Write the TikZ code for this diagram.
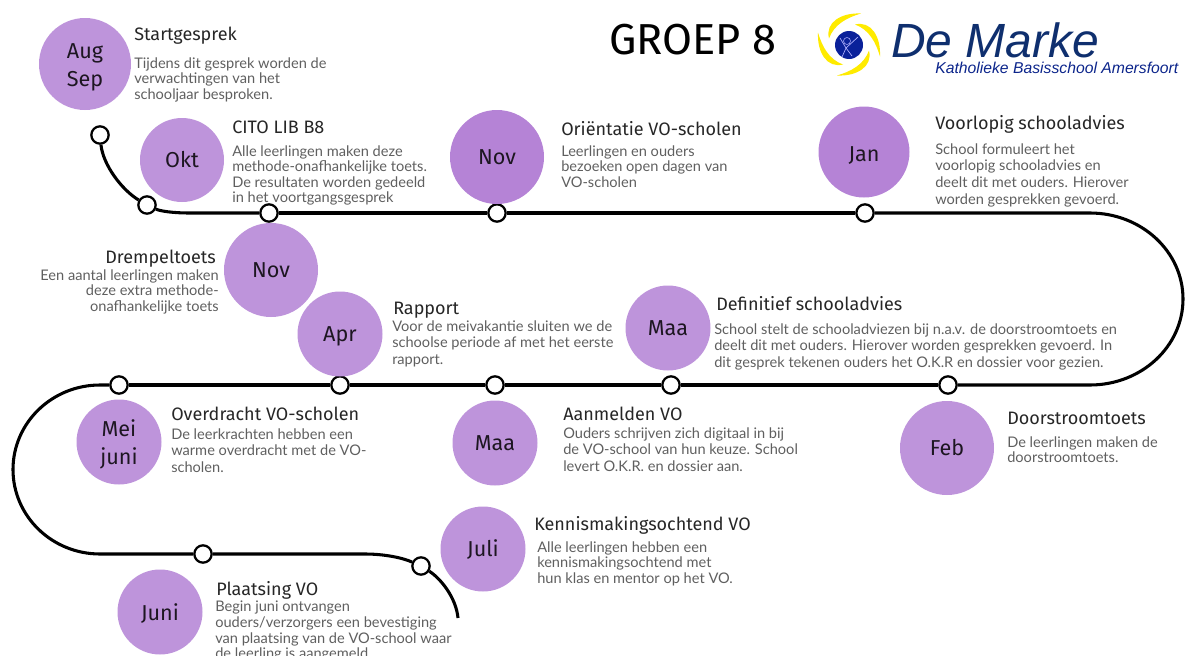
\documentclass[tikz,border=0pt]{standalone}
\usepackage{fontspec}
\setmainfont{Lato}
\newfontfamily\headfont{Fira Sans}
\newfontfamily\logofont{Liberation Sans}
\usetikzlibrary{positioning}
\definecolor{bolletje}{HTML}{BE94DB}
\definecolor{bolletjedonker}{HTML}{B583D6}
\definecolor{tekstgrijs}{HTML}{5F5F5F}
\definecolor{markeblauw}{HTML}{0F2F6E}
\definecolor{markegeel}{HTML}{FFEB00}
\newcommand{\zak}[2][5.8pt]{\smash{\raisebox{-#1}{#2}}}
\tikzset{
  maand/.style={circle,fill=bolletje,inner sep=0pt,text=black!85!bolletje,align=center,font=\headfont\fontsize{16.2}{21}\selectfont},
  punt/.style={circle,draw=black,line width=1.7pt,fill=white,inner sep=0pt,minimum size=13pt},
  kop/.style={inner sep=0pt,anchor=base west,text=black!85,font=\headfont\fontsize{13.5}{14}\selectfont},
  uitleg/.style={inner sep=0pt,anchor=north west,align=left,text=tekstgrijs,font=\fontsize{10.95}{11.7}\selectfont},
  ruim/.style={font=\fontsize{10.95}{12.6}\selectfont},
  lijn/.style={line width=2.3pt,black},
  swirl/.style={fill=markegeel,draw=none}
}
\begin{document}
\begin{tikzpicture}[x=0.75pt,y=-0.75pt]
  \useasboundingbox (0,0) rectangle (1186,657);
  % punten op de lijn
  \node[punt] (p1) at (100,135) {};
  \node[punt] (p2) at (147,205) {};
  \node[punt] (p3) at (269,213) {};
  \node[punt] (p4) at (497,213) {};
  \node[punt] (p5) at (865,213) {};
  \node[punt] (p6) at (948,385) {};
  \node[punt] (p7) at (671,385) {};
  \node[punt] (p8) at (495,385) {};
  \node[punt] (p9) at (340,385) {};
  \node[punt] (p10) at (119,385) {};
  \node[punt] (p11) at (203,554) {};
  \node[punt] (p12) at (421,566) {};
  \coordinate (rechts1) at (1090,213);
  \coordinate (links1) at (100,385);
  \coordinate (eind) at (458,618);
  % de lijn
  \draw[lijn] (p1) .. controls (103,165) and (122,190) .. (p2);
  \draw[lijn] (p2) .. controls (160,211) and (172,213) .. (190,213) -- (p3);
  \draw[lijn] (p3) -- (p4);
  \draw[lijn] (p4) -- (p5);
  \draw[lijn] (p5) -- (rechts1) arc[start angle=-90,end angle=90,x radius=93,y radius=86] -- (p6);
  \draw[lijn] (p6) -- (p7);
  \draw[lijn] (p7) -- (p8);
  \draw[lijn] (p8) -- (p9);
  \draw[lijn] (p9) -- (p10);
  \draw[lijn] (p10) -- (links1) arc[start angle=-90,end angle=-270,x radius=87,y radius=84.5] -- (p11);
  \draw[lijn] (p11) -- (365,554) .. controls (385,554) and (403,558) .. (p12);
  \draw[lijn] (p12) .. controls (440,578) and (456,597) .. (eind);
  % maanden
  \node[maand,minimum size=92pt*0.75] (aug) at (85,64) {\zak[6.4pt]{Aug}\\\zak[6.4pt]{Sep}};
  \node[maand,minimum size=84pt*0.75] (okt) at (182,160) {\zak{Okt}};
  \node[maand,fill=bolletjedonker,minimum size=94pt*0.75] (nov1) at (497,157) {\zak{Nov}};
  \node[maand,fill=bolletjedonker,minimum size=91pt*0.75] (jan) at (864,152) {\zak[6.8pt]{Jan}};
  \node[maand,minimum size=94pt*0.75] (nov2) at (271,270) {\zak{Nov}};
  \node[maand,minimum size=85pt*0.75] (apr) at (340,334) {\zak{Apr}};
  \node[maand,minimum size=85pt*0.75] (maa1) at (668,328) {\zak[5.3pt]{Maa}};
  \node[maand,minimum size=85pt*0.75] (mei) at (119,442) {\zak[6pt]{Mei}\\\zak[6pt]{juni}};
  \node[maand,minimum size=85pt*0.75] (maa2) at (495,443) {\zak{Maa}};
  \node[maand,minimum size=94pt*0.75] (feb) at (947,448) {\zak[5.3pt]{Feb}};
  \node[maand,minimum size=85pt*0.75] (juli) at (483,549) {\zak{Juli}};
  \node[maand,minimum size=85pt*0.75] (juni) at (160,612) {\zak[6.5pt]{Juni}};
  % teksten
  \node[kop] (t1) at (134,40) {Startgesprek};
  \node[uitleg] (u1) at (134,57) {Tijdens dit gesprek worden de\\verwachtingen van het\\schooljaar besproken.};
  \node[kop] (t2) at (232,133) {CITO LIB B8};
  \node[uitleg] (u2) at (232,145) {Alle leerlingen maken deze\\methode-onafhankelijke toets.\\De resultaten worden gedeeld\\in het voortgangsgesprek};
  \node[kop] (t3) at (561,135) {Oriëntatie VO-scholen};
  \node[uitleg] (u3) at (561,145) {Leerlingen en ouders\\bezoeken open dagen van\\VO-scholen};
  \node[kop] (t4) at (935,129) {Voorlopig schooladvies};
  \node[uitleg,ruim] (u4) at (935,143) {School formuleert het\\voorlopig schooladvies en\\deelt dit met ouders. Hierover\\worden gesprekken gevoerd.};
  \node[kop,anchor=base east] (t5) at (216,263) {Drempeltoets};
  \node[uitleg,anchor=north east,align=right] (u5) at (219,269) {Een aantal leerlingen maken\\deze extra methode-\\onafhankelijke toets};
  \node[kop] (t6) at (393,314) {Rapport};
  \node[uitleg,ruim] (u6) at (392,320) {Voor de meivakantie sluiten we de\\schoolse periode af met het eerste\\rapport.};
  \node[kop] (t7) at (716,310) {Definitief schooladvies};
  \node[uitleg,ruim] (u7) at (714,323) {School stelt de schooladviezen bij n.a.v. de doorstroomtoets en\\deelt dit met ouders. Hierover worden gesprekken gevoerd. In\\dit gesprek tekenen ouders het O.K.R en dossier voor gezien.};
  \node[kop] (t8) at (171,420) {Overdracht VO-scholen};
  \node[uitleg,ruim] (u8) at (171,428) {De leerkrachten hebben een\\warme overdracht met de VO-\\scholen.};
  \node[kop] (t9) at (563,420) {Aanmelden VO};
  \node[uitleg,ruim] (u9) at (563,427) {Ouders schrijven zich digitaal in bij\\de VO-school van hun keuze. School\\levert O.K.R. en dossier aan.};
  \node[kop] (t10) at (1007,424) {Doorstroomtoets};
  \node[uitleg] (u10) at (1007,436) {De leerlingen maken de\\doorstroomtoets.};
  \node[kop] (t11) at (534,530) {Kennismakingsochtend VO};
  \node[uitleg] (u11) at (537,541) {Alle leerlingen hebben een\\kennismakingsochtend met\\hun klas en mentor op het VO.};
  \node[kop] (t12) at (216,595) {Plaatsing VO};
  \begin{scope}
    \clip (0,0) rectangle (1186,655);
    \node[uitleg] (u12) at (215,601) {Begin juni ontvangen\\ouders/verzorgers een bevestiging\\van plaatsing van de VO-school waar\\de leerling is aangemeld};
  \end{scope}
  % titel en logo
  \node[inner sep=0pt,text=black,font=\headfont\fontsize{32.5}{33}\selectfont] (titel) at (693,40) {GROEP 8};
  \fill[markeblauw!70!blue] (849,45) circle (14);
  \draw[white!70!blue,line width=0.4pt] (847,41) circle (3.5);
  \draw[white!70!blue,line width=0.5pt] (840,38) -- (846,48) -- (858,37) (846,48) -- (842,57) (846,48) -- (852,56);
  \foreach \hoek in {0,90,180,270}{
    \begin{scope}[shift={(849,44.5)},rotate=\hoek]
      \fill[swirl] (-20,-6) .. controls (-24,-22) and (-8,-32) .. (12,-31) .. controls (-2,-27) and (-15,-20) .. (-20,-6) -- cycle;
    \end{scope}
  }
  \node[inner sep=0pt,anchor=base west,text=markeblauw,font=\logofont\itshape\fontsize{36}{37}\selectfont] (marke) at (891,57) {De Marke};
  \node[inner sep=0pt,anchor=base west,text=markeblauw!80!blue,font=\logofont\itshape\fontsize{11.8}{12}\selectfont] (school) at (935,73) {Katholieke Basisschool Amersfoort};
\end{tikzpicture}
\end{document}
